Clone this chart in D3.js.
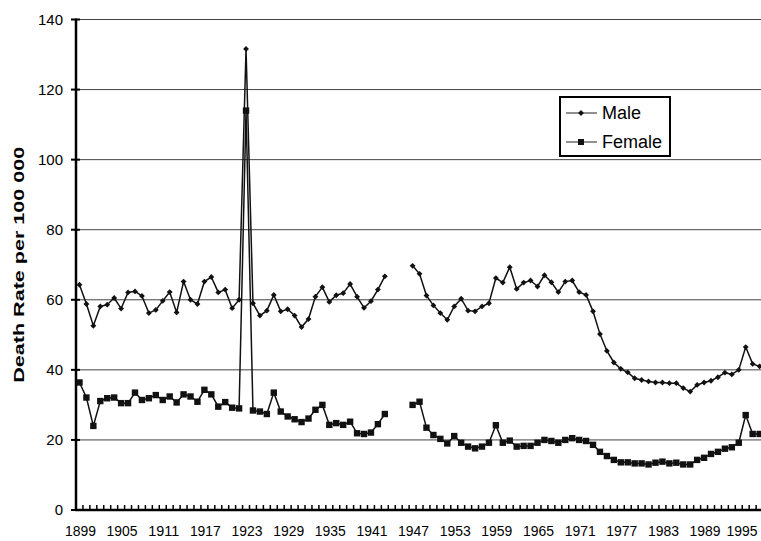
<!DOCTYPE html>
<html>
<head>
<meta charset="utf-8">
<script src="https://cdn.jsdelivr.net/npm/d3@7"></script>
<style>
  body { margin: 0; background: #fff; }
  svg { display: block; font-family: Arial, "Liberation Sans", sans-serif; }
</style>
</head>
<body>
<svg id="chart" width="761" height="541"></svg>
<script>
// years 1899..1997, no values for 1944-1946
const years = d3.range(1899, 1998);

const male = [
  64.3, 58.8, 52.6, 58.1, 58.6, 60.5, 57.5, 62.1, 62.4, 61.1,   // 1899-1908
  56.2, 57.1, 59.7, 62.2, 56.4, 65.2, 60.0, 58.8, 65.2, 66.5,   // 1909-1918
  62.1, 62.9, 57.6, 60.0, 131.6, 59.0, 55.5, 56.9, 61.4, 56.7,  // 1919-1928
  57.3, 55.5, 52.2, 54.5, 60.9, 63.6, 59.4, 61.3, 61.9, 64.5,   // 1929-1938
  60.9, 57.7, 59.6, 62.9, 66.7, null, null, null, 69.7, 67.4,   // 1939-1948
  61.2, 58.4, 56.2, 54.3, 58.1, 60.3, 56.9, 56.7, 58.1, 59.0,   // 1949-1958
  66.2, 64.9, 69.3, 63.1, 64.9, 65.5, 63.8, 67.0, 65.0, 62.2,   // 1959-1968
  65.2, 65.5, 62.2, 61.4, 56.7, 50.2, 45.4, 42.1, 40.3, 39.3,   // 1969-1978
  37.6, 37.1, 36.7, 36.4, 36.4, 36.2, 36.2, 34.8, 33.8, 35.7,   // 1979-1988
  36.4, 36.9, 37.9, 39.2, 38.7, 40.0, 46.5, 41.7, 41.0          // 1989-1997
];

const female = [
  36.4, 32.1, 24.0, 31.1, 31.9, 32.1, 30.5, 30.5, 33.5, 31.4,   // 1899-1908
  31.9, 32.8, 31.4, 32.4, 30.7, 33.0, 32.4, 30.9, 34.3, 33.0,   // 1909-1918
  29.5, 30.8, 29.2, 29.0, 114.0, 28.4, 28.1, 27.4, 33.5, 28.1,  // 1919-1928
  26.7, 25.9, 25.1, 26.1, 28.6, 30.0, 24.3, 24.8, 24.3, 25.2,   // 1929-1938
  21.9, 21.7, 22.1, 24.5, 27.4, null, null, null, 30.0, 30.9,   // 1939-1948
  23.5, 21.4, 20.3, 19.0, 21.1, 19.2, 18.1, 17.6, 18.1, 19.2,   // 1949-1958
  24.2, 19.2, 19.8, 18.1, 18.3, 18.3, 19.2, 20.0, 19.7, 19.2,   // 1959-1968
  20.0, 20.5, 20.0, 19.7, 18.6, 16.6, 15.4, 14.3, 13.6, 13.6,   // 1969-1978
  13.3, 13.3, 13.0, 13.5, 13.8, 13.3, 13.5, 13.0, 13.0, 14.3,   // 1979-1988
  14.9, 16.0, 16.6, 17.5, 17.9, 19.2, 27.1, 21.7, 21.7          // 1989-1997
];

const yTicks = [0, 20, 40, 60, 80, 100, 120, 140];
const xLabels = [1899, 1905, 1911, 1917, 1923, 1929, 1935, 1941, 1947,
                 1953, 1959, 1965, 1971, 1977, 1983, 1989, 1995];
const seriesNames = ["Male", "Female"];

const svg = d3.select("#chart");
const plotLeft = 76, plotBottom = 510, plotTop = 19.5;
const step = 6.94;

const x = d3.scaleBand()
    .domain(years)
    .range([plotLeft, plotLeft + years.length * step])
    .paddingInner(0).paddingOuter(0);
const cx = d => x(d) + x.bandwidth() / 2;

const y = d3.scaleLinear()
    .domain([0, 140])
    .range([plotBottom, plotTop]);

// horizontal gridlines
svg.append("g")
    .selectAll("line")
    .data(yTicks.filter(d => d > 0))
    .enter()
    .append("line")
    .attr("x1", plotLeft).attr("x2", 761)
    .attr("y1", d => y(d)).attr("y2", d => y(d))
    .attr("stroke", "#444")
    .attr("stroke-width", 1);

// y axis
const yAxis = svg.append("g");
yAxis.append("line")
    .attr("x1", plotLeft).attr("x2", plotLeft)
    .attr("y1", y(140) - 1).attr("y2", plotBottom + 1)
    .attr("stroke", "#000").attr("stroke-width", 2.5);
yAxis.selectAll(".tk")
    .data(yTicks)
    .enter()
    .append("line")
    .attr("x1", plotLeft - 5).attr("x2", plotLeft + 4)
    .attr("y1", d => y(d)).attr("y2", d => y(d))
    .attr("stroke", "#000").attr("stroke-width", 2);
yAxis.selectAll("text")
    .data(yTicks)
    .enter()
    .append("text")
    .attr("x", 63)
    .attr("y", d => y(d))
    .attr("dy", "0.36em")
    .attr("text-anchor", "end")
    .style("font-size", "15px")
    .text(d => d);

// y title
svg.append("text")
    .attr("transform", `translate(24, ${(plotTop + plotBottom) / 2}) rotate(-90)`)
    .attr("text-anchor", "middle")
    .attr("textLength", 236)
    .attr("lengthAdjust", "spacingAndGlyphs")
    .style("font-size", "15.5px")
    .style("font-weight", "bold")
    .text("Death Rate per 100 000");

// x axis: line, inside ticks at category boundaries, labels every 6 years
const xAxis = svg.append("g");
xAxis.append("line")
    .attr("x1", plotLeft - 1).attr("x2", 761)
    .attr("y1", plotBottom).attr("y2", plotBottom)
    .attr("stroke", "#000").attr("stroke-width", 2.5);
xAxis.selectAll(".tk")
    .data(years.slice(1))
    .enter()
    .append("line")
    .attr("x1", d => x(d)).attr("x2", d => x(d))
    .attr("y1", plotBottom).attr("y2", plotBottom - 5)
    .attr("stroke", "#000").attr("stroke-width", 1.5);
xAxis.selectAll("text")
    .data(xLabels)
    .enter()
    .append("text")
    .attr("x", d => Math.min(cx(d) + 1, 742))
    .attr("y", 536)
    .attr("text-anchor", "middle")
    .attr("textLength", 31)
    .attr("lengthAdjust", "spacingAndGlyphs")
    .style("font-size", "15px")
    .text(d => d);

const line = d3.line()
    .defined(d => d.v != null)
    .x(d => cx(d.year))
    .y(d => y(d.v));

const maleData = years.map((yr, i) => ({year: yr, v: male[i]}));
const femaleData = years.map((yr, i) => ({year: yr, v: female[i]}));

svg.append("path")
    .datum(femaleData)
    .attr("d", line)
    .attr("fill", "none")
    .attr("stroke", "#111")
    .attr("stroke-width", 1.5);

svg.append("path")
    .datum(maleData)
    .attr("d", line)
    .attr("fill", "none")
    .attr("stroke", "#111")
    .attr("stroke-width", 1.5);

// female squares
svg.append("g")
    .selectAll("rect")
    .data(femaleData.filter(d => d.v != null))
    .enter()
    .append("rect")
    .attr("x", d => cx(d.year) - 3.2)
    .attr("y", d => y(d.v) - 3.2)
    .attr("width", 6.4).attr("height", 6.4)
    .attr("fill", "#111");

// male diamonds
svg.append("g")
    .selectAll("path")
    .data(maleData.filter(d => d.v != null))
    .enter()
    .append("path")
    .attr("d", d3.symbol().type(d3.symbolSquare).size(17))
    .attr("transform", d => `translate(${cx(d.year)}, ${y(d.v)}) rotate(45)`)
    .attr("fill", "#111");

// legend
const legend = svg.append("g");
legend.append("rect")
    .attr("x", 560).attr("y", 97)
    .attr("width", 110).attr("height", 59)
    .attr("fill", "#fff")
    .attr("stroke", "#000").attr("stroke-width", 2);

seriesNames.forEach((name, i) => {
    const ly = 113 + i * 29;
    legend.append("line")
        .attr("x1", 566).attr("x2", 597)
        .attr("y1", ly).attr("y2", ly)
        .attr("stroke", "#222").attr("stroke-width", 1);
    if (name === "Male") {
        legend.append("path")
            .attr("d", d3.symbol().type(d3.symbolSquare).size(17))
            .attr("transform", `translate(581, ${ly}) rotate(45)`)
            .attr("fill", "#111");
    } else {
        legend.append("rect")
            .attr("x", 578).attr("y", ly - 3)
            .attr("width", 6).attr("height", 6)
            .attr("fill", "#111");
    }
    legend.append("text")
        .attr("x", 602).attr("y", ly)
        .attr("dy", "0.36em")
        .style("font-size", "18px")
        .text(name);
});
</script>
</body>
</html>
